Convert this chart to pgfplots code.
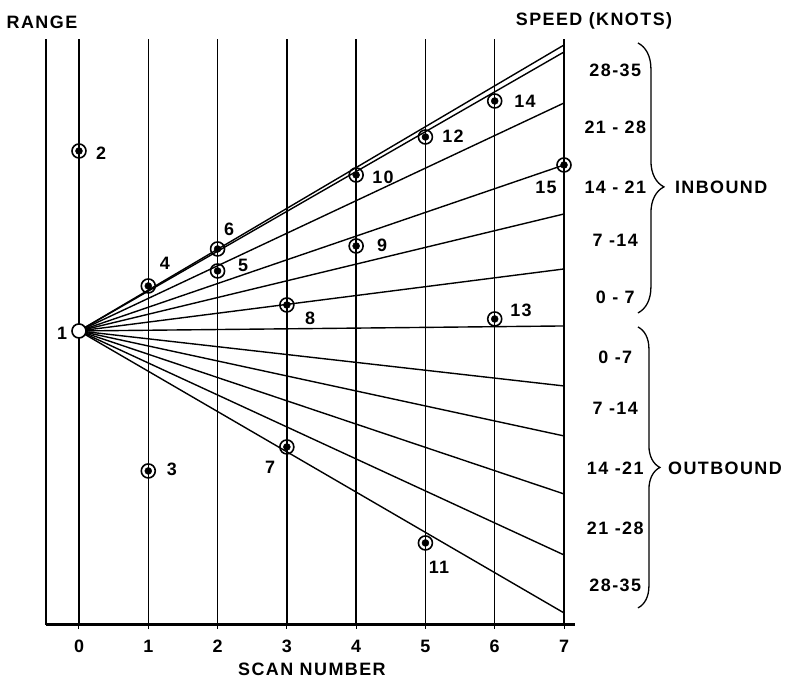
\documentclass[border=0pt]{standalone}
\usepackage{fontspec}
\setmainfont{Liberation Sans}
\usepackage{pgfplots}
\pgfplotsset{compat=1.18}
\usetikzlibrary{decorations.pathreplacing}

\newcommand\lbl{\fontsize{18}{20}\selectfont\bfseries\addfontfeature{LetterSpace=8}}

\begin{document}
\begin{tikzpicture}
\begin{axis}[
    scale only axis,
    width=529bp, height=586bp,
    xmin=-0.476, xmax=7.158,
    ymin=0, ymax=58.6,
    axis lines=left,
    axis line style={-},
    x axis line style={line width=3bp},
    y axis line style={line width=2.2bp},
    xtick={0,...,7},
    ytick=\empty,
    tick align=outside,
    major tick length=4bp,
    tick style={black, line width=1bp},
    xmajorgrids,
    grid style={black, line width=1.4bp},
    /pgf/number format/assume math mode=true,
    xticklabel style={font=\lbl, yshift=-8bp},
    clip=false,
]
% fan of speed lines from the first return
\addplot[black, line width=1.4bp] coordinates {(0,29.4) (7,58.0)};
\addplot[black, line width=1.4bp] coordinates {(0,29.4) (7,57.3)};
\addplot[black, line width=1.4bp] coordinates {(0,29.4) (7,52.2)};
\addplot[black, line width=1.4bp] coordinates {(0,29.4) (7,46.0)};
\addplot[black, line width=1.4bp] coordinates {(0,29.4) (7,41.1)};
\addplot[black, line width=1.4bp] coordinates {(0,29.4) (7,35.6)};
\addplot[black, line width=1.4bp] coordinates {(0,29.4) (7,29.9)};
\addplot[black, line width=1.4bp] coordinates {(0,29.4) (7,23.9)};
\addplot[black, line width=1.4bp] coordinates {(0,29.4) (7,18.9)};
\addplot[black, line width=1.4bp] coordinates {(0,29.4) (7,13.1)};
\addplot[black, line width=1.4bp] coordinates {(0,29.4) (7,7.0)};
\addplot[black, line width=1.4bp] coordinates {(0,29.4) (7,1.2)};

% returns 2..15
\addplot[only marks, mark=o, mark size=7bp, mark options={black, line width=1.6bp}]
    coordinates {(0,47.4) (1,15.4) (1,33.9) (2,35.4) (2,37.6) (3,17.8) (3,32.0)
                 (4,37.9) (4,45.0) (5,8.2) (5,48.8) (6,30.6) (6,52.4) (7,46.0)};
\addplot[only marks, mark=*, mark size=3.5bp, mark options={black}]
    coordinates {(0,47.4) (1,15.4) (1,33.9) (2,35.4) (2,37.6) (3,17.8) (3,32.0)
                 (4,37.9) (4,45.0) (5,8.2) (5,48.8) (6,30.6) (6,52.4) (7,46.0)};
% return 1
\addplot[only marks, mark=*, mark size=7bp, mark options={draw=black, fill=white, line width=1.6bp}]
    coordinates {(0,29.4)};

% point numbers
\node[font=\lbl] at (axis cs:-0.245,29.2) {1};
\node[font=\lbl] at (axis cs:0.318,47.2) {2};
\node[font=\lbl] at (axis cs:1.342,15.6) {3};
\node[font=\lbl] at (axis cs:1.241,36.2) {4};
\node[font=\lbl] at (axis cs:2.367,36.0) {5};
\node[font=\lbl] at (axis cs:2.165,39.6) {6};
\node[font=\lbl] at (axis cs:2.757,15.8) {7};
\node[font=\lbl] at (axis cs:3.334,30.7) {8};
\node[font=\lbl] at (axis cs:4.373,38.0) {9};
\node[font=\lbl] at (axis cs:4.387,44.8) {10};
\node[font=\lbl] at (axis cs:5.196,5.8) {11};
\node[font=\lbl] at (axis cs:5.398,48.9) {12};
\node[font=\lbl] at (axis cs:6.380,31.5) {13};
\node[font=\lbl] at (axis cs:6.437,52.4) {14};
\node[font=\lbl] at (axis cs:6.740,43.8) {15};

% titles
\node[font=\lbl] at (axis cs:-0.534,60.3) {RANGE};
\node[font=\lbl] at (axis cs:7.433,60.4) {SPEED (KNOTS)};
\node[font=\lbl] at (axis cs:3.362,-4.4) {SCAN NUMBER};

% speed bands
\node[font=\lbl] at (axis cs:7.74,55.5) {28-35};
\node[font=\lbl] at (axis cs:7.74,49.8) {21 - 28};
\node[font=\lbl] at (axis cs:7.74,43.8) {14 - 21};
\node[font=\lbl] at (axis cs:7.74,38.5) {7 -14};
\node[font=\lbl] at (axis cs:7.74,32.8) {0 - 7};
\node[font=\lbl] at (axis cs:7.74,26.8) {0 -7};
\node[font=\lbl] at (axis cs:7.74,21.7) {7 -14};
\node[font=\lbl] at (axis cs:7.74,15.7) {14 -21};
\node[font=\lbl] at (axis cs:7.74,9.7) {21 -28};
\node[font=\lbl] at (axis cs:7.74,4.0) {28-35};

\draw[decorate, decoration={brace, amplitude=26bp, aspect=0.533}, line width=1.3bp]
    (axis cs:8.067,58.2) -- (axis cs:8.067,31.2);
\draw[decorate, decoration={brace, amplitude=22bp, aspect=0.50}, line width=1.3bp]
    (axis cs:8.067,29.8) -- (axis cs:8.067,1.7);
\node[font=\lbl, anchor=west, inner sep=0pt] at (axis cs:8.600,43.8) {INBOUND};
\node[font=\lbl, anchor=west, inner sep=0pt] at (axis cs:8.500,15.7) {OUTBOUND};

\coordinate (bl) at (axis cs:-1.140,-5.6);
\coordinate (tr) at (axis cs:10.204,62.5);
\end{axis}
\pgfresetboundingbox
\path[use as bounding box] (bl) rectangle (tr);
\end{tikzpicture}
\end{document}
